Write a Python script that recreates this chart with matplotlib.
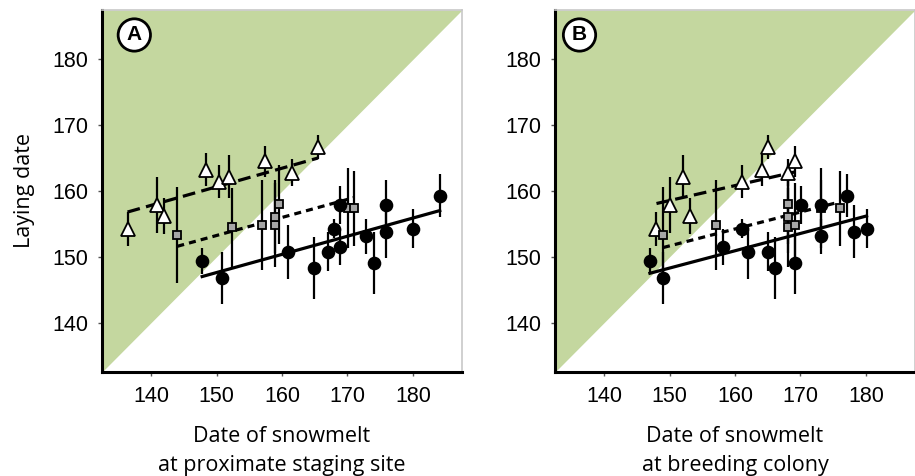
import numpy as np
import matplotlib
matplotlib.use("Agg")
import matplotlib.pyplot as plt

# Laying date (y) with error, and snowmelt date at two sites (x)
# Triangles
tri_lay = [154.2, 157.9, 156.2, 163.2, 161.4, 162.2, 164.5, 162.8, 166.7]
tri_err = [2.6, 4.3, 2.7, 2.5, 2.5, 3.2, 2.4, 2.1, 1.8]
tri_staging = [136.4, 140.9, 141.9, 148.4, 150.3, 151.9, 157.4, 161.5, 165.5]
tri_colony = [148.0, 150.0, 153.1, 164.1, 161.1, 152.1, 169.1, 168.1, 165.1]

# Squares
sq_lay = [153.3, 154.5, 154.8, 154.8, 156.1, 158.0, 157.4, 157.4]
sq_err = [7.3, 6.0, 6.8, 6.4, 5.5, 6.0, 6.1, 5.7]
sq_staging = [144.0, 152.4, 157.0, 158.9, 158.9, 159.5, 170.1, 171.0]
sq_colony = [149.0, 168.1, 157.1, 169.1, 168.1, 168.1, 173.1, 176.1]

# Circles
circ_lay = [149.4, 146.8, 150.8, 148.3, 150.8, 154.3, 157.9, 151.5,
            153.1, 149.0, 157.9, 153.8, 154.3, 159.3]
circ_err = [2.0, 3.9, 4.1, 4.7, 3.0, 1.5, 2.9, 2.7, 2.6, 4.7, 3.8, 4.0, 3.0, 3.3]
circ_staging = [147.8, 150.8, 160.9, 164.9, 167.0, 168.0, 168.9, 168.9,
                172.9, 174.0, 175.9, 175.9, 180.0, 184.1]
circ_colony = [147.0, 149.0, 162.0, 166.1, 165.1, 161.1, 170.1, 158.2,
               173.1, 169.1, 173.1, 178.2, 180.1, 177.1]

# Regression lines (slope, intercept): tri, sq, circ
fit_staging = [(0.282, 118.34), (0.274, 112.14), (0.276, 106.21)]
fit_colony = [(0.227, 124.5), (0.257, 113.11), (0.263, 108.84)]

ticks = [140, 150, 160, 170, 180]
lim = (132.5, 187.5)
green = "#c4d79f"

fig = plt.figure(figsize=(9.15, 4.76), dpi=100)
ax_a = fig.add_axes([0.1115, 0.2185, 0.3934, 0.7605])
ax_b = fig.add_axes([0.6066, 0.2185, 0.3934, 0.7605])

panels = [
    (ax_a, "A", tri_staging, sq_staging, circ_staging, fit_staging,
     "Date of snowmelt\nat proximate staging site", 0.0897),
    (ax_b, "B", tri_colony, sq_colony, circ_colony, fit_colony,
     "Date of snowmelt\nat breeding colony", 0.068),
]

for ax, letter, tx, sx, cx, fits, xlab, lx in panels:
    ax.set_xlim(lim)
    ax.set_ylim(lim)
    # shaded region above 1:1 line
    ax.fill_between(lim, lim, [lim[1], lim[1]], color=green, lw=0, zorder=0)

    groups = [
        (tx, tri_lay, tri_err, "^", "white", 9.5, (4, 2)),
        (sx, sq_lay, sq_err, "s", "#a6a6a6", 6.3, (2.2, 1.6)),
        (cx, circ_lay, circ_err, "o", "black", 8.5, None),
    ]
    for (x, y, e, m, fc, ms, dash), (slope, icpt) in zip(groups, fits):
        xs = np.array([min(x), max(x)])
        line, = ax.plot(xs, slope * xs + icpt, color="black", lw=2.3, zorder=2)
        if dash:
            line.set_dashes(dash)
        ax.errorbar(x, y, yerr=e, fmt="none", ecolor="black", elinewidth=1.6,
                    capsize=0, zorder=3)
        ax.plot(x, y, m, ms=ms, mfc=fc, mec="black", mew=1.3, ls="none",
                zorder=4)

    ax.set_xticks(ticks)
    ax.set_yticks(ticks)
    ax.tick_params(direction="out", length=3, width=1, color="#555555",
                   labelsize=15.5, pad=7)
    for lab in ax.get_xticklabels() + ax.get_yticklabels():
        lab.set_fontfamily("Liberation Sans")
    for side in ["left", "bottom"]:
        ax.spines[side].set_linewidth(2.2)
        ax.spines[side].set_color("black")
    for side in ["top", "right"]:
        ax.spines[side].set_linewidth(1.2)
        ax.spines[side].set_color("#c8c8c8")

    ax.set_xlabel(xlab, fontsize=15.5, fontfamily="Open Sans", labelpad=14,
                  linespacing=1.5)
    ax.text(lx, 0.931, letter, transform=ax.transAxes, fontsize=15,
            fontweight="bold", fontfamily="Liberation Sans", ha="center",
            va="center", zorder=6,
            bbox=dict(boxstyle="circle,pad=0.32", fc="white", ec="black", lw=2))

ax_a.set_ylabel("Laying date", fontsize=15.5, fontfamily="Open Sans",
                labelpad=12)

fig.savefig("out.png", dpi=100)
